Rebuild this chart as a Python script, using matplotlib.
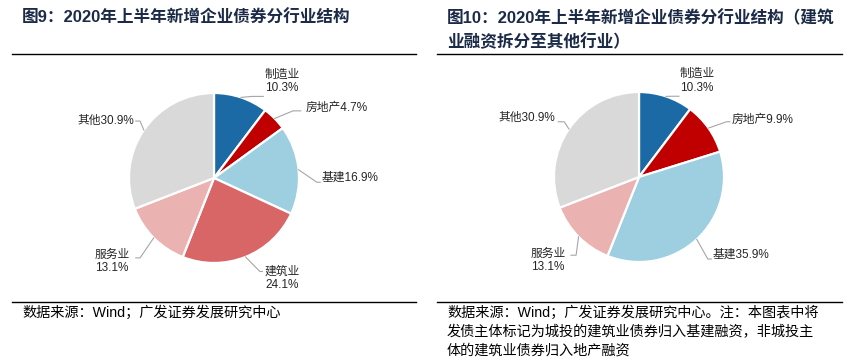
import matplotlib
matplotlib.use("Agg")
import matplotlib.pyplot as plt
import numpy as np

plt.rcParams["font.family"] = ["Liberation Sans", "Noto Sans CJK SC"]

# ---- data ----
left_labels = ["制造业", "房地产", "基建", "建筑业", "服务业", "其他"]
left_values = [10.3, 4.7, 16.9, 24.1, 13.1, 30.9]
right_labels = ["制造业", "房地产", "基建", "服务业", "其他"]
right_values = [10.3, 9.9, 35.9, 13.1, 30.9]

colors = {"制造业": "#1B6AA5", "房地产": "#C00000", "基建": "#9DCFE0",
          "建筑业": "#D96666", "服务业": "#EBB2B2", "其他": "#D9D9D9"}

title_l = "图9：2020年上半年新增企业债券分行业结构"
title_r = "图10：2020年上半年新增企业债券分行业结构（建筑\n业融资拆分至其他行业）"
src_l = ["数据来源：Wind；广发证券发展研究中心"]
src_r = ["数据来源：Wind；广发证券发展研究中心。注：本图表中将",
         "发债主体标记为城投的建筑业债券归入基建融资，非城投主",
         "体的建筑业债券归入地产融资"]

# label layout (radius units): text pos, ha, two-line?, leader elbow, leader end
lay_l = {
    "制造业": ((0.80, 1.14), "center", True, (0.45, 0.96), (0.58, 0.96)),
    "房地产": ((1.08, 0.83), "left", False, (0.93, 0.79), (1.02, 0.79)),
    "基建": ((1.27, 0.0), "left", False, (1.21, -0.05), (1.25, -0.05)),
    "建筑业": ((0.80, -1.18), "center", True, (0.54, -1.10), (0.57, -1.10)),
    "服务业": ((-1.20, -0.98), "center", True, (-0.87, -0.94), (-0.92, -0.94)),
    "其他": ((-0.94, 0.67), "right", False, (-0.87, 0.67), (-0.92, 0.67)),
}
lay_r = {
    "制造业": ((0.68, 1.13), "center", True, (0.40, 0.95), (0.47, 0.95)),
    "房地产": ((1.09, 0.67), "left", False, (1.03, 0.65), (1.07, 0.65)),
    "基建": ((0.86, -0.92), "left", False, (0.81, -0.965), (0.85, -0.965)),
    "服务业": ((-1.07, -0.98), "center", True, (-0.74, -0.92), (-0.80, -0.92)),
    "其他": ((-0.99, 0.69), "right", False, (-0.88, 0.65), (-0.95, 0.65)),
}

W, H = 858, 363
fig = plt.figure(figsize=(W / 100, H / 100), dpi=100)
R = 85.0  # pie radius in px


def px_axes(cx, cy, w, h):
    return fig.add_axes([(cx - w / 2) / W, 1 - (cy + h / 2) / H, w / W, h / H])


def draw_pie(cx, cy, labels, values, lay):
    aw, ah = 340, 240
    ax = px_axes(cx, cy, aw, ah)
    wedges, _ = ax.pie(values, colors=[colors[l] for l in labels],
                       startangle=90, counterclock=False, radius=1.0,
                       wedgeprops=dict(edgecolor="white", linewidth=1.6),
                       frame=True)
    ax.set_axis_off()
    ax.set_xlim(-aw / 2 / R, aw / 2 / R)
    ax.set_ylim(-ah / 2 / R, ah / 2 / R)
    for w, lab, v in zip(wedges, labels, values):
        ang = np.radians((w.theta1 + w.theta2) / 2)
        edge = (np.cos(ang), np.sin(ang))
        (tx, ty), ha, two, elbow, end = lay[lab]
        ax.plot([edge[0], elbow[0], end[0]], [edge[1], elbow[1], end[1]],
                color="#A6A6A6", lw=0.8, zorder=1)
        txt = f"{lab}\n{v}%" if two else f"{lab}{v}%"
        ax.text(tx, ty, txt, ha=ha, va="center", fontsize=8.5,
                color="#262626", linespacing=1.15)


draw_pie(214, 178, left_labels, left_values, lay_l)
draw_pie(639, 177, right_labels, right_values, lay_r)

# titles
fig.text(22 / W, 1 - 18 / H, title_l, fontsize=12, fontweight="bold",
         color="#1B2A47", va="center", ha="left")
fig.text(447 / W, 1 - 30 / H, title_r, fontsize=12, fontweight="bold",
         color="#1B2A47", va="center", ha="left", linespacing=1.55)

# rules
for x0, x1 in [(12, 416), (437, 842)]:
    for y in (54, 302):
        fig.add_artist(plt.Line2D([x0 / W, x1 / W], [1 - y / H, 1 - y / H],
                                  color="black", lw=1.0))

# sources
for x, lines in [(22, src_l), (447, src_r)]:
    for i, line in enumerate(lines):
        fig.text(x / W, 1 - (313 + 19 * i) / H, line, fontsize=10.2,
                 color="black", va="center", ha="left")

fig.savefig("out.png", dpi=100)
